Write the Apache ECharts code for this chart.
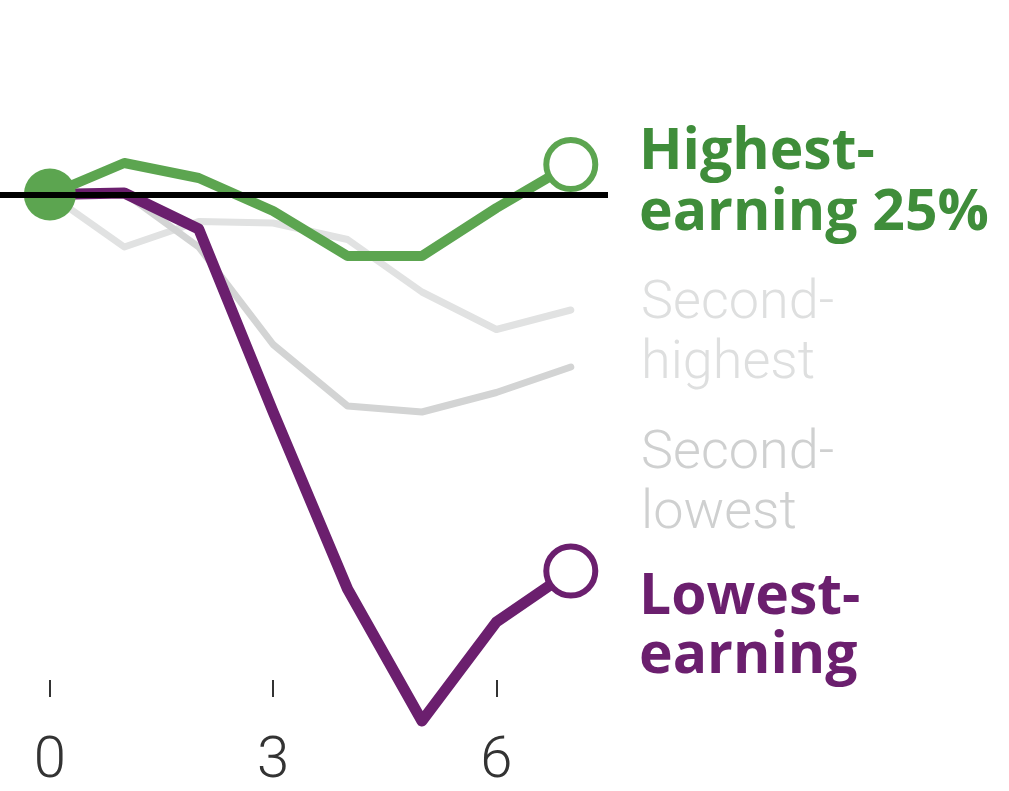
<!doctype html>
<html>
<head>
<meta charset="UTF-8">
<title>Employment by earnings group</title>
<script src="https://cdn.jsdelivr.net/npm/echarts@6/dist/echarts.min.js"></script>
<style>
  html, body { margin: 0; padding: 0; background: #fff; }
  #chart { width: 1009px; height: 791px; }
</style>
</head>
<body>
<div id="chart"></div>
<script>
// weeks since start, change in employment (percent)
var weeks = [0, 1, 2, 3, 4, 5, 6, 7];
var tickWeeks = [0, 3, 6];
var highest = [0, 2.1, 1.1, -1.1, -4.1, -4.1, -0.9, 2.0];
var secondHighest = [0, -3.5, -1.8, -1.9, -3.0, -6.5, -9.0, -7.7];
var secondLowest = [0, 0.1, -3.5, -10.0, -14.1, -14.5, -13.2, -11.5];
var lowest = [0, 0.1, -2.3, -14.5, -26.3, -35.1, -28.5, -25.1];

var GREEN = '#5ca550';
var PURPLE = '#6b1f6e';

function points(vals, color, withStart) {
  return vals.map(function (v, i) {
    var item = { value: [weeks[i], v], symbol: 'none' };
    if (i === 0 && withStart) {
      item.symbol = 'circle';
      item.symbolSize = 52;
      item.itemStyle = { color: color, borderWidth: 0 };
    } else if (i === vals.length - 1 && color) {
      item.symbol = 'circle';
      item.symbolSize = 49;
      item.itemStyle = { color: '#fff', borderColor: color, borderWidth: 6 };
    }
    return item;
  });
}

var chart = echarts.init(document.getElementById('chart'));

var lightFont = 'Roboto, "Liberation Sans", sans-serif';
var boldFont = '"Open Sans", Roboto, sans-serif';

chart.setOption({
  animation: false,
  backgroundColor: '#fff',
  title: [
    { text: 'Highest-\nearning 25%', left: 639, top: 122, padding: 0,
      textStyle: { color: '#3f8d3a', fontSize: 57, lineHeight: 61, fontWeight: 'bold', fontFamily: boldFont } },
    { text: 'Second-\nhighest', left: 641, top: 274, padding: 0,
      textStyle: { color: '#dedfdf', fontSize: 54, lineHeight: 60, fontWeight: 300, fontFamily: lightFont } },
    { text: 'Second-\nlowest', left: 641, top: 424, padding: 0,
      textStyle: { color: '#cfd0d0', fontSize: 54, lineHeight: 60, fontWeight: 300, fontFamily: lightFont } },
    { text: 'Lowest-\nearning', left: 639, top: 568, padding: 0,
      textStyle: { color: '#6b1f6e', fontSize: 57, lineHeight: 59, fontWeight: 'bold', fontFamily: boldFont } }
  ],
  grid: { left: 0, right: 401, top: 134.5, bottom: 94, containLabel: false },
  xAxis: {
    type: 'value',
    min: -0.67,
    max: 7.5,
    axisLine: { show: false, onZero: false },
    splitLine: { show: false },
    axisTick: {
      show: true, inside: true, length: 17, customValues: tickWeeks,
      lineStyle: { color: '#333', width: 2 }
    },
    axisLabel: {
      customValues: tickWeeks, margin: 36,
      color: '#333', fontSize: 58, fontWeight: 300, fontFamily: lightFont
    }
  },
  yAxis: {
    type: 'value', min: -33.5, max: 4,
    show: false, splitLine: { show: false }
  },
  series: [
    {
      name: 'Second-highest', type: 'line', z: 1, clip: false,
      data: points(secondHighest, null, false),
      lineStyle: { color: '#e1e2e2', width: 7, join: 'round', cap: 'round' },
      silent: true
    },
    {
      name: 'Second-lowest', type: 'line', z: 1, clip: false,
      data: points(secondLowest, null, false),
      lineStyle: { color: '#d3d4d4', width: 7, join: 'round', cap: 'round' },
      silent: true
    },
    {
      name: 'baseline', type: 'line', z: 2, data: [], silent: true,
      markLine: {
        symbol: 'none', silent: true, label: { show: false },
        lineStyle: { color: '#000', width: 6, type: 'solid' },
        data: [{ yAxis: 0 }]
      }
    },
    {
      name: 'Lowest-earning', type: 'line', z: 3, clip: false,
      data: points(lowest, PURPLE, false),
      lineStyle: { color: PURPLE, width: 11, join: 'round', cap: 'round' },
      silent: true
    },
    {
      name: 'Highest-earning 25%', type: 'line', z: 4, clip: false,
      data: points(highest, GREEN, true),
      lineStyle: { color: GREEN, width: 10, join: 'round', cap: 'round' },
      silent: true
    }
  ]
});
</script>
</body>
</html>
